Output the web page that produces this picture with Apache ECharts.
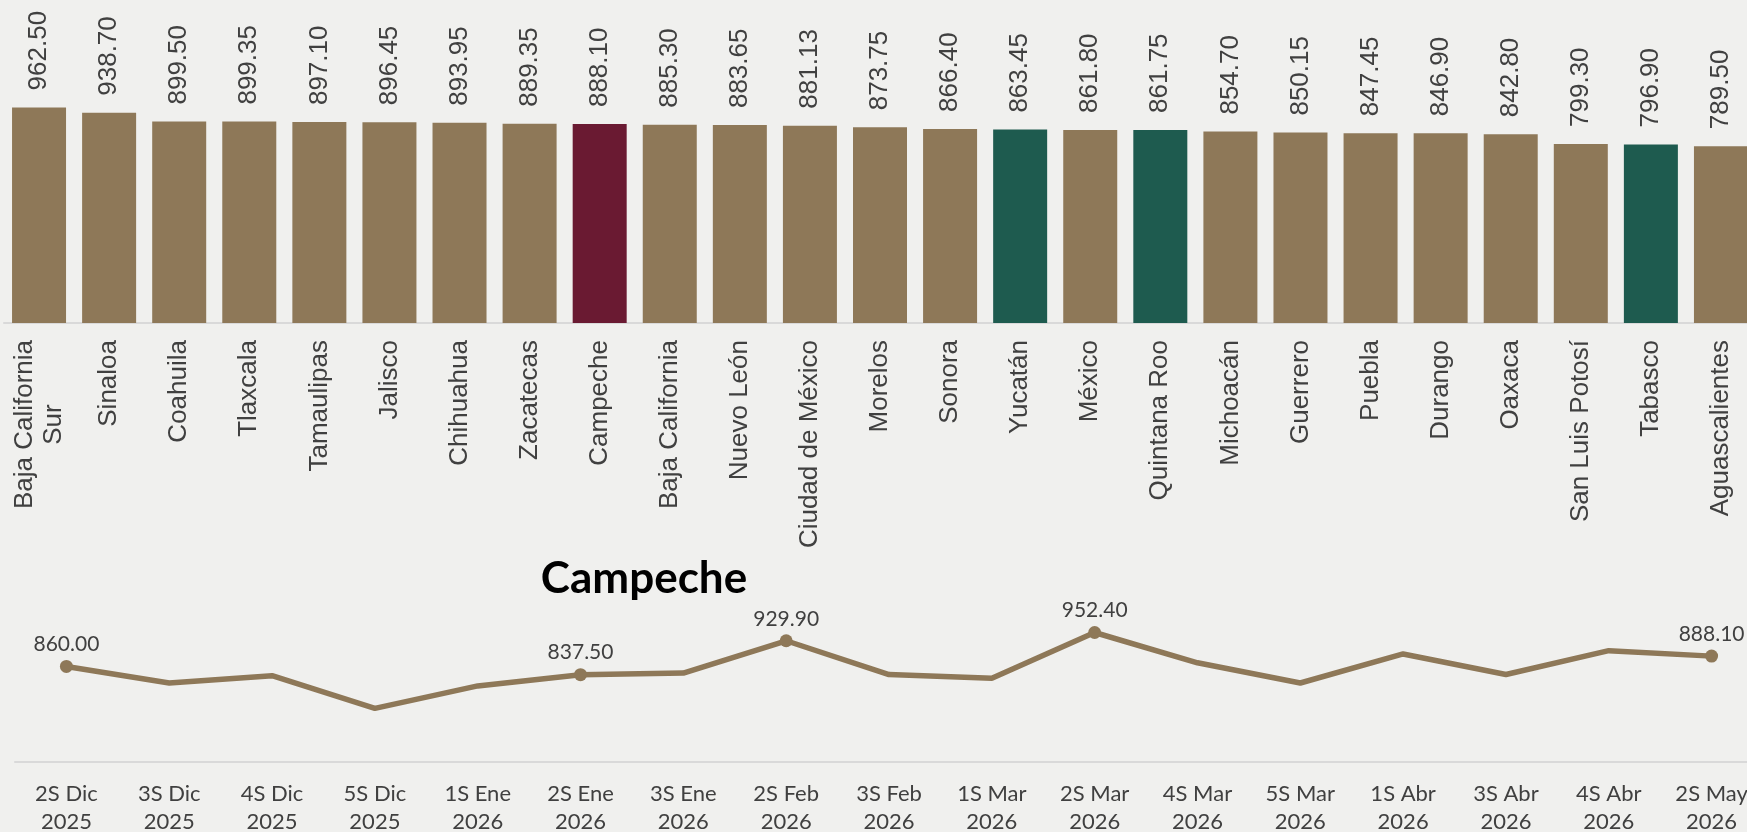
<!DOCTYPE html>
<html>
<head>
<meta charset="utf-8">
<script src="https://cdn.jsdelivr.net/npm/echarts@6/dist/echarts.min.js"></script>
<style>
html,body{margin:0;padding:0;background:#f0f0ee;}
#main{width:1747px;height:832px;}
</style>
</head>
<body>
<div id="main"></div>
<script>
//precio por estado (barras de arriba)
var estados=["Baja California\nSur","Sinaloa","Coahuila","Tlaxcala","Tamaulipas","Jalisco","Chihuahua","Zacatecas","Campeche","Baja California","Nuevo León","Ciudad de México","Morelos","Sonora","Yucatán","México","Quintana Roo","Michoacán","Guerrero","Puebla","Durango","Oaxaca","San Luis Potosí","Tabasco","Aguascalientes"];
var precios=[962.50,938.70,899.50,899.35,897.10,896.45,893.95,889.35,888.10,885.30,883.65,881.13,873.75,866.40,863.45,861.80,861.75,854.70,850.15,847.45,846.90,842.80,799.30,796.90,789.50];
var estadoDestacado="Campeche";
var estadosRegion=["Yucatán","Quintana Roo","Tabasco"];

//historico de Campeche (linea de abajo)
var semanas=["2S Dic\n2025","3S Dic\n2025","4S Dic\n2025","5S Dic\n2025","1S Ene\n2026","2S Ene\n2026","3S Ene\n2026","2S Feb\n2026","3S Feb\n2026","1S Mar\n2026","2S Mar\n2026","4S Mar\n2026","5S Mar\n2026","1S Abr\n2026","3S Abr\n2026","4S Abr\n2026","2S May\n2026"];
var preciosCampeche=[860.00,815,835,746,807,837.50,842,929.90,838,828,952.40,870,815,894,838,903,888.10];
var semanasConEtiqueta=[0,5,7,10,16];

var colorBase="#8e7858";
var colorDestacado="#6a1a32";
var colorRegion="#1e5b4f";
var colorTexto="#404040";

function colorDeEstado(nombre){
    if(nombre==estadoDestacado){
        return colorDestacado;
    }
    if(estadosRegion.indexOf(nombre)>=0){
        return colorRegion;
    }
    return colorBase;
}

var datosBarras=[];
for(var i=0;i<precios.length;i++){
    datosBarras.push({value:precios[i],itemStyle:{color:colorDeEstado(estados[i])}});
}

var datosLinea=[];
for(var j=0;j<preciosCampeche.length;j++){
    datosLinea.push({
        value:preciosCampeche[j],
        symbolSize:semanasConEtiqueta.indexOf(j)>=0?13:0,
        label:{show:semanasConEtiqueta.indexOf(j)>=0}
    });
}

var myChart=echarts.init(document.getElementById('main'));
var option={
    backgroundColor:"#f0f0ee",
    animation:false,
    title:{
        text:"Campeche",
        left:639,
        top:552,
        textAlign:"center",
        textStyle:{fontFamily:"Lato",fontWeight:"bold",fontSize:44,color:"#000"}
    },
    grid:[
        {left:4,width:1752,top:99,height:224,outerBoundsMode:"none"},
        {left:15,width:1748,top:615,height:147,outerBoundsMode:"none"}
    ],
    xAxis:[
        {
            type:"category",gridIndex:0,data:estados,
            axisTick:{show:false},
            axisLine:{lineStyle:{color:"#d9d9d9",width:2}},
            axisLabel:{
                interval:0,rotate:90,margin:17,
                fontFamily:"Liberation Sans",fontSize:26,color:colorTexto,lineHeight:29,
                formatter:function(v){
                    if(v.indexOf("\n")<0){return v;}
                    return v.split("\n").map(function(s){return "{c|"+s+"}";}).join("\n");
                },
                rich:{c:{align:"center",fontFamily:"Liberation Sans",fontSize:26,color:colorTexto,lineHeight:29}}
            }
        },
        {
            type:"category",gridIndex:1,data:semanas,
            axisTick:{show:false},
            axisLine:{lineStyle:{color:"#d9d9d9",width:2}},
            axisLabel:{interval:0,margin:18,fontFamily:"Lato",fontSize:22,color:colorTexto,lineHeight:28}
        }
    ],
    yAxis:[
        {type:"value",gridIndex:0,min:0,max:1000,show:false,splitLine:{show:false}},
        {type:"value",gridIndex:1,min:600,max:1000,show:false,splitLine:{show:false}}
    ],
    series:[
        {
            type:"bar",xAxisIndex:0,yAxisIndex:0,barWidth:54,
            data:datosBarras,
            label:{
                show:true,position:"top",rotate:90,align:"left",verticalAlign:"middle",distance:17,
                fontFamily:"Liberation Sans",fontSize:26,color:colorTexto,
                formatter:function(p){return p.value.toFixed(2);}
            }
        },
        {
            type:"line",xAxisIndex:1,yAxisIndex:1,
            data:datosLinea,
            symbol:"circle",
            lineStyle:{color:colorBase,width:5.5},
            itemStyle:{color:colorBase},
            label:{
                position:"top",distance:5,
                fontFamily:"Lato",fontSize:21,color:colorTexto,
                formatter:function(p){return p.value.toFixed(2);}
            }
        }
    ]
};
myChart.setOption(option);
</script>
</body>
</html>
